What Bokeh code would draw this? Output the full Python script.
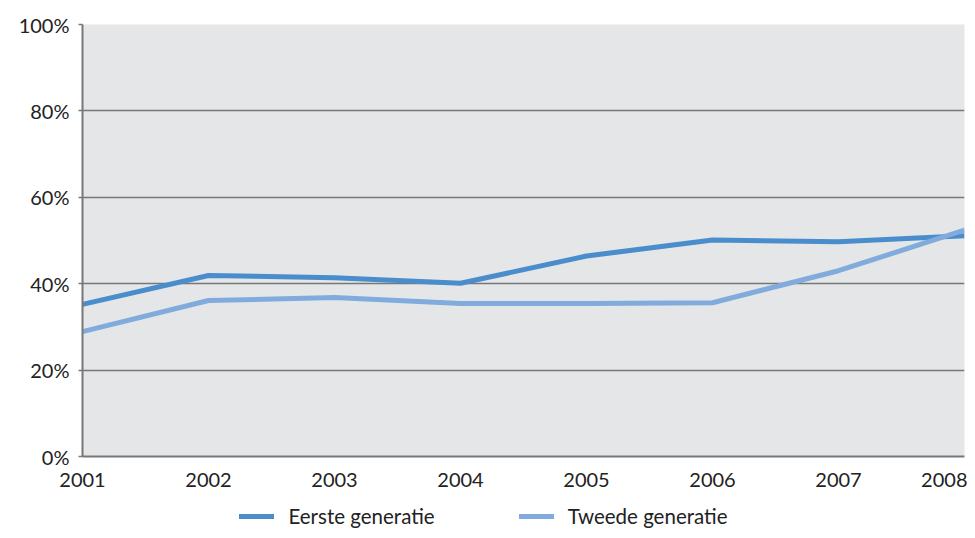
from bokeh.plotting import figure
from bokeh.layouts import column
from bokeh.models import FixedTicker, PrintfTickFormatter, Legend, LegendItem
from bokeh.embed import file_html
from bokeh.resources import INLINE

years = [2001, 2002, 2003, 2004, 2005, 2006, 2007, 2008]
eerste = [35.2, 41.9, 41.4, 40.1, 46.4, 50.1, 49.7, 51.1]
tweede = [28.9, 36.1, 36.8, 35.4, 35.4, 35.6, 43.0, 52.4]
y_ticks = [0, 20, 40, 60, 80, 100]
series_names = ["Eerste generatie", "Tweede generatie"]
series_colors = ["#4A8DCD", "#80ABDC"]

FONT = "Lato"

main = figure(frame_width=882, frame_height=432, x_range=(2001, 2008), y_range=(0, 100),
              output_backend="svg", toolbar_location=None,
              min_border_left=82, min_border_right=3, min_border_top=24, min_border_bottom=46)
main.background_fill_color = "#E5E6E8"
main.border_fill_color = "white"
main.outline_line_color = None

main.xgrid.grid_line_color = None
main.ygrid.ticker = FixedTicker(ticks=y_ticks)
main.ygrid.grid_line_color = "#777777"
main.ygrid.grid_line_width = 1.5

main.xaxis.ticker = FixedTicker(ticks=years)
main.yaxis.ticker = FixedTicker(ticks=y_ticks)
main.yaxis.formatter = PrintfTickFormatter(format="%d%%")
for ax in (main.xaxis[0], main.yaxis[0]):
    ax.axis_line_color = "#777777"
    ax.axis_line_width = 2
    ax.major_tick_line_color = "#777777"
    ax.major_tick_line_width = 1.5
    ax.major_tick_in = 0
    ax.minor_tick_line_color = None
    ax.major_label_text_font = FONT
    ax.major_label_text_font_size = "20px"
    ax.major_label_text_color = "#222222"
main.yaxis.major_tick_out = 4
main.xaxis.major_tick_out = 0
main.yaxis.major_label_standoff = 9
main.xaxis.major_label_standoff = 16

main.line(years, eerste, line_color=series_colors[0], line_width=5, line_join="round")
main.line(years, tweede, line_color=series_colors[1], line_width=5, line_join="round")

# legend strip below the chart (lines kept out of view, only legend shown)
leg = figure(frame_width=900, height=28, x_range=(2001, 2008), y_range=(1000, 1001),
             output_backend="svg", toolbar_location=None,
             x_axis_type=None, y_axis_type=None,
             min_border_left=67, min_border_right=0, min_border_top=0, min_border_bottom=0)
leg.outline_line_color = None
leg.grid.grid_line_color = None
l1 = leg.line(years, eerste, line_color=series_colors[0], line_width=5, line_cap="round")
l2 = leg.line(years, tweede, line_color=series_colors[1], line_width=5, line_cap="round")

legend = Legend(items=[LegendItem(label=series_names[0], renderers=[l1]),
                       LegendItem(label=series_names[1], renderers=[l2])],
                orientation="horizontal", location="center",
                label_text_font=FONT, label_text_font_size="20.5px", label_text_color="#222222",
                glyph_width=35, spacing=84, label_standoff=14,
                background_fill_alpha=0, border_line_color=None, margin=0, padding=0)
leg.add_layout(legend, "center")

p = column(main, leg, spacing=0)

open("out.html", "w").write(file_html(p, INLINE))
